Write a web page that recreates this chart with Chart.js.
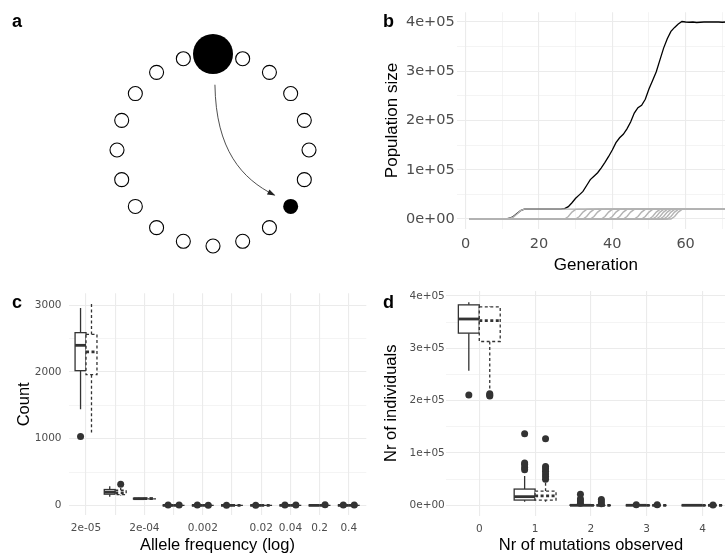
<!DOCTYPE html>
<html>
<head>
<style>
  body { margin: 0; width: 725px; height: 557px; overflow: hidden; background: #fff; position: relative; }
  canvas { position: absolute; }
  .tag { position: absolute; font: bold 18px "Liberation Sans", Arial, sans-serif; color: #000; line-height: 1; }
</style>
<script src="https://cdn.jsdelivr.net/npm/chart.js"></script>
</head>
<body>
<canvas id="pa" width="362" height="270" style="left:0;top:0"></canvas>
<canvas id="pb" width="380" height="280" style="left:370px;top:0"></canvas>
<canvas id="pc" width="370" height="277" style="left:0;top:280px"></canvas>
<canvas id="pd" width="380" height="277" style="left:370px;top:280px"></canvas>
<div class="tag" style="left:12px;top:12px">a</div>
<div class="tag" style="left:383px;top:12px">b</div>
<div class="tag" style="left:12px;top:293px">c</div>
<div class="tag" style="left:383px;top:293px">d</div>

<script>
// ---- panel a: demes on a ring (angles in degrees) ----
const openDemes = [72, 54, 36, 18, 0, -18, -54, -72, -90, -108, -126, -144, -162, 180, 162, 144, 126, 108];
const sourceDeme = [90];
const targetDeme = [-36];
const migrationPath = [[0.02, 0.68], [0.03, 0.0], [0.30, -0.30], [0.64, -0.47]];

// ---- panel b: population size per generation ----
const blackSize = [0, 0, 0, 0, 0, 0, 0, 0, 0, 0,
  300, 1500, 5000, 11000, 17000, 20000, 20000, 20000, 20000, 20000,
  20000, 20000, 20000, 20000, 20000, 20000, 21000, 25000, 33000, 42000,
  49000, 56000, 68000, 80000, 87000, 94000, 104000, 115000, 127000, 140000,
  155000, 165000, 172000, 183000, 197000, 215000, 226000, 231000, 243000, 264000,
  281000, 299000, 323000, 347000, 366000, 381000, 389000, 396000, 401000, 400000,
  399500, 400000, 399000, 399500, 400000, 400000, 400000, 400000, 400000, 399500,
  400000, 400000];
const grayLineages = [
  [[1,0],[11,0],[12,1000],[13,4000],[14,10000],[15,17000],[16,20000],[72,20000]],
  [[1,0],[27,0],[28,5000],[29,14000],[30,19500],[31,20000],[72,20000]],
  [[1,0],[30,0],[31,5000],[32,14000],[33,19500],[34,20000],[72,20000]],
  [[1,0],[32,0],[33,5000],[34,14000],[35,19500],[36,20000],[72,20000]],
  [[1,0],[34,0],[35,5000],[36,14000],[37,19500],[38,20000],[72,20000]],
  [[1,0],[37,0],[38,5000],[39,14000],[40,19500],[41,20000],[72,20000]],
  [[1,0],[39,0],[40,5000],[41,14000],[42,19500],[43,20000],[72,20000]],
  [[1,0],[41,0],[42,5000],[43,14000],[44,19500],[45,20000],[72,20000]],
  [[1,0],[43,0],[44,5000],[45,14000],[46,19500],[47,20000],[72,20000]],
  [[1,0],[46,0],[47,5000],[48,14000],[49,19500],[50,20000],[72,20000]],
  [[1,0],[48,0],[49,5000],[50,14000],[51,19500],[52,20000],[72,20000]],
  [[1,0],[50,0],[51,5000],[52,14000],[53,19500],[54,20000],[72,20000]],
  [[1,0],[51,0],[52,5000],[53,14000],[54,19500],[55,20000],[72,20000]],
  [[1,0],[52,0],[53,5000],[54,14000],[55,19500],[56,20000],[72,20000]],
  [[1,0],[53,0],[54,5000],[55,14000],[56,19500],[57,20000],[72,20000]],
  [[1,0],[54,0],[55,5000],[56,14000],[57,19500],[58,20000],[72,20000]],
  [[1,0],[55,0],[56,5000],[57,14000],[58,19500],[59,20000],[72,20000]],
  [[1,0],[56,0],[57,5000],[58,14000],[59,19500],[60,20000],[72,20000]]
];
const genMajor = [0, 20, 40, 60];
const genMinor = [10, 30, 50, 70];
const sizeMajor = [0, 100000, 200000, 300000, 400000];
const sizeMinor = [50000, 150000, 250000, 350000];
const sizeLabels = ['0e+00', '1e+05', '2e+05', '3e+05', '4e+05'];

// ---- panel c: allele frequency classes, box stats [lo, q1, med, q3, hi] ----
const freqLabels = ['2e-05', '', '2e-04', '', '0.002', '', '0.02', '0.04', '0.2', '0.4'];
const countSolid = [[1440,2020,2400,2590,2960],[128,168,198,238,287],[88,95,101,107,116],
  [0,0,0,0,0],[0,0,0,0,0],[0,0,0,0,0],[0,0,0,0,0],[0,0,0,0,0],[0,0,0,0,0],[0,0,0,0,0]];
const countDashed = [[1093,1960,2302,2563,3024],[150,160,187,227,260],[90,97,103,109,118],
  [0,0,0,0,0],[0,0,0,0,0],[0,0,0,0,0],[0,0,0,0,0],[0,0,0,0,0],[0,0,0,0,0],[0,0,0,0,0]];
const countOutSolid = [[1034],[],[],[5],[6],[4],[3],[7],[],[5]];
const countOutDashed = [[],[316],[],[6],[4],[],[],[5],[8],[6]];
const countMajor = [0, 1000, 2000, 3000];
const countMinor = [500, 1500, 2500];

// ---- panel d: number of mutations observed ----
const mutLabels = ['0', '1', '2', '3', '4'];
const indSolid = [[257000,329000,356000,383000,388000],[7000,10000,16500,31000,56000],
  [0,0,0,500,1000],[0,0,0,0,0],[0,0,0,0,0]];
const indDashed = [[216000,313000,353000,379000,380000],[7000,10000,18000,27000,45000],
  [0,0,0,500,1000],[0,0,0,0,0],[0,0,0,0,0]];
const indOutSolid = [[211000],[68000,72000,78000,81000,136500],[4000,8000,12000,21000],[1000],[]];
const indOutDashed = [[209000,211000,213000],[50000,55000,60000,65000,70000,74000,127000],[3000,7000,11000],[1000],[800]];

Chart.defaults.font.family = '"Liberation Sans", Arial, sans-serif';
Chart.defaults.animation = false;
Chart.defaults.responsive = false;
Chart.defaults.events = [];
Chart.defaults.layout.autoPadding = false;
Chart.defaults.plugins.legend.display = false;
Chart.defaults.plugins.tooltip.enabled = false;

const INK = '#333333';
const tickFont = size => ({ family: '"DejaVu Sans", sans-serif', size: size });

function setTicks(values) {
  return s => { s.ticks = values.map(v => ({ value: v })); };
}
function gridOpts(majors) {
  return {
    color: '#ebebeb',
    lineWidth: c => (c.tick && majors.includes(c.tick.value)) ? 1.1 : 0.55,
    drawTicks: false
  };
}

// boxplots drawn through the chart scales
const boxPlugin = {
  id: 'boxes',
  beforeDatasetsDraw(chart, args, opts) {
    const { ctx, scales: { x, y } } = chart;
    ctx.save();
    opts.groups.forEach(g => {
      g.stats.forEach((s, i) => {
        const cx = x.getPixelForValue(i + g.shift);
        const x0 = x.getPixelForValue(i + g.shift - 0.1875);
        const x1 = x.getPixelForValue(i + g.shift + 0.1875);
        const [lo, q1, med, q3, hi] = s.map(v => y.getPixelForValue(v));
        ctx.setLineDash(g.dash);
        ctx.strokeStyle = INK;
        ctx.lineWidth = 1.3;
        ctx.beginPath();
        ctx.moveTo(cx, q3); ctx.lineTo(cx, hi);
        ctx.moveTo(cx, q1); ctx.lineTo(cx, lo);
        ctx.stroke();
        ctx.fillStyle = '#fff';
        ctx.fillRect(x0, q3, x1 - x0, q1 - q3);
        ctx.strokeRect(x0, q3, x1 - x0, q1 - q3);
        ctx.lineWidth = 2.8;
        ctx.beginPath();
        ctx.moveTo(x0, med); ctx.lineTo(x1, med);
        ctx.stroke();
      });
    });
    ctx.restore();
  }
};

function outlierSet(lists, shift) {
  const pts = [];
  lists.forEach((vals, i) => vals.forEach(v => pts.push({ x: i + shift, y: v })));
  return { data: pts, pointRadius: 3.5, backgroundColor: INK, borderWidth: 0 };
}

// ---------- panel a ----------
const arrowPlugin = {
  id: 'arrow',
  afterDatasetsDraw(chart) {
    const { ctx, scales: { x, y } } = chart;
    const p = migrationPath.map(([a, b]) => [x.getPixelForValue(a), y.getPixelForValue(b)]);
    ctx.save();
    ctx.strokeStyle = '#222';
    ctx.lineWidth = 0.8;
    ctx.beginPath();
    ctx.moveTo(p[0][0], p[0][1]);
    ctx.bezierCurveTo(p[1][0], p[1][1], p[2][0], p[2][1], p[3][0], p[3][1]);
    ctx.stroke();
    const ang = Math.atan2(p[3][1] - p[2][1], p[3][0] - p[2][0]);
    ctx.translate(p[3][0], p[3][1]);
    ctx.rotate(ang);
    ctx.fillStyle = '#222';
    ctx.beginPath();
    ctx.moveTo(1, 0); ctx.lineTo(-7, -2.8); ctx.lineTo(-7, 2.8); ctx.closePath();
    ctx.fill();
    ctx.restore();
  }
};
const ring = list => list.map(a => ({ x: Math.cos(a * Math.PI / 180), y: Math.sin(a * Math.PI / 180) }));
new Chart(document.getElementById('pa'), {
  type: 'scatter',
  data: {
    datasets: [
      { data: ring(openDemes), pointRadius: 7, backgroundColor: '#fff', borderColor: '#000', borderWidth: 1.1, clip: false },
      { data: ring(sourceDeme), pointRadius: 20, backgroundColor: '#000', borderWidth: 0, clip: false },
      { data: ring(targetDeme), pointRadius: 7.5, backgroundColor: '#000', borderWidth: 0, clip: false }
    ]
  },
  options: {
    devicePixelRatio: 1,
    layout: { padding: 0, autoPadding: false },
    scales: {
      x: { display: false, min: -2.21875, max: 1.552 },
      y: { display: false, min: -1.25, max: 1.5625 }
    }
  },
  plugins: [arrowPlugin]
});

// ---------- panel b ----------
const bSets = grayLineages.map(l => ({
  data: l.map(([g, v]) => ({ x: g, y: v })),
  borderColor: '#b3b3b3', borderWidth: 1.4, pointRadius: 0, tension: 0
}));
bSets.push({
  data: blackSize.map((v, i) => ({ x: i + 1, y: v })),
  borderColor: '#000', borderWidth: 1.3, pointRadius: 0, tension: 0
});
new Chart(document.getElementById('pb'), {
  type: 'line',
  data: { datasets: bSets },
  options: {
    devicePixelRatio: 1,
    layout: { padding: { top: 12.15, right: 15.1, left: 0, bottom: 0 } },
    scales: {
      x: {
        type: 'linear', min: -2.45, max: 73.45,
        afterBuildTicks: setTicks(genMajor.concat(genMinor)),
        afterFit: s => { s.height = 51.15; },
        ticks: { callback: v => genMajor.includes(v) ? String(v) : '', font: tickFont(14.5), color: '#4d4d4d', padding: 7, maxRotation: 0, autoSkip: false },
        grid: gridOpts(genMajor), border: { display: false },
        title: { display: true, text: 'Generation', color: '#000', font: { size: 17 }, padding: { top: 0, bottom: 4.5 } }
      },
      y: {
        min: -20000, max: 420000,
        afterBuildTicks: setTicks(sizeMajor.concat(sizeMinor)),
        afterFit: s => { s.width = 86.7; },
        ticks: { callback: v => { const k = sizeMajor.indexOf(v); return k >= 0 ? sizeLabels[k] : ''; }, font: tickFont(14.5), color: '#4d4d4d', padding: 2, autoSkip: false },
        grid: gridOpts(sizeMajor), border: { display: false },
        title: { display: true, text: 'Population size', color: '#000', font: { size: 17 }, padding: { top: 12.2, bottom: 0 } }
      }
    }
  }
});

// ---------- panel c ----------
new Chart(document.getElementById('pc'), {
  type: 'scatter',
  data: { datasets: [outlierSet(countOutSolid, -0.1875), outlierSet(countOutDashed, 0.1875)] },
  options: {
    devicePixelRatio: 1,
    layout: { padding: { top: 11.2, right: 3.7, left: 0, bottom: 0 } },
    plugins: { boxes: { groups: [
      { stats: countSolid, shift: -0.1875, dash: [] },
      { stats: countDashed, shift: 0.1875, dash: [3, 2.5] }
    ] } },
    scales: {
      x: {
        type: 'linear', min: -0.6, max: 9.6,
        afterBuildTicks: setTicks(freqLabels.map((_, i) => i)),
        afterFit: s => { s.height = 41.6; },
        ticks: { callback: v => freqLabels[v], font: tickFont(10.5), color: '#4d4d4d', padding: 7, maxRotation: 0, autoSkip: false },
        grid: gridOpts(freqLabels.map((_, i) => i)), border: { display: false },
        title: { display: true, text: 'Allele frequency (log)', color: '#000', font: { size: 16.5 }, padding: { top: 0, bottom: 1.6 } }
      },
      y: {
        min: -150, max: 3180,
        afterBuildTicks: setTicks(countMajor.concat(countMinor)),
        afterFit: s => { s.width = 68.5; },
        ticks: { callback: v => countMajor.includes(v) ? String(v) : '', font: tickFont(10.5), color: '#4d4d4d', padding: 7, autoSkip: false },
        grid: gridOpts(countMajor), border: { display: false },
        title: { display: true, text: 'Count', color: '#000', font: { size: 16.5 }, padding: { top: 14.5, bottom: 0 } }
      }
    }
  },
  plugins: [boxPlugin]
});

// ---------- panel d ----------
new Chart(document.getElementById('pd'), {
  type: 'scatter',
  data: { datasets: [outlierSet(indOutSolid, -0.1875), outlierSet(indOutDashed, 0.1875)] },
  options: {
    devicePixelRatio: 1,
    layout: { padding: { top: 11, right: 14, left: 0, bottom: 0 } },
    plugins: { boxes: { groups: [
      { stats: indSolid, shift: -0.1875, dash: [] },
      { stats: indDashed, shift: 0.1875, dash: [3, 2.5] }
    ] } },
    scales: {
      x: {
        type: 'linear', min: -0.6, max: 4.6,
        afterBuildTicks: setTicks(mutLabels.map((_, i) => i)),
        afterFit: s => { s.height = 41.5; },
        ticks: { callback: v => mutLabels[v], font: tickFont(10.5), color: '#4d4d4d', padding: 7, maxRotation: 0, autoSkip: false },
        grid: gridOpts(mutLabels.map((_, i) => i)), border: { display: false },
        title: { display: true, text: 'Nr of mutations observed', color: '#000', font: { size: 16.5 }, padding: { top: 0, bottom: 1.6 } }
      },
      y: {
        min: -19500, max: 409500,
        afterBuildTicks: setTicks(sizeMajor.concat(sizeMinor)),
        afterFit: s => { s.width = 75.8; },
        ticks: { callback: v => { const k = sizeMajor.indexOf(v); return k >= 0 ? sizeLabels[k] : ''; }, font: tickFont(10.5), color: '#4d4d4d', padding: 1, autoSkip: false },
        grid: gridOpts(sizeMajor), border: { display: false },
        title: { display: true, text: 'Nr of individuals', color: '#000', font: { size: 16.5 }, padding: { top: 11.6, bottom: 0 } }
      }
    }
  },
  plugins: [boxPlugin]
});
</script>
</body>
</html>
